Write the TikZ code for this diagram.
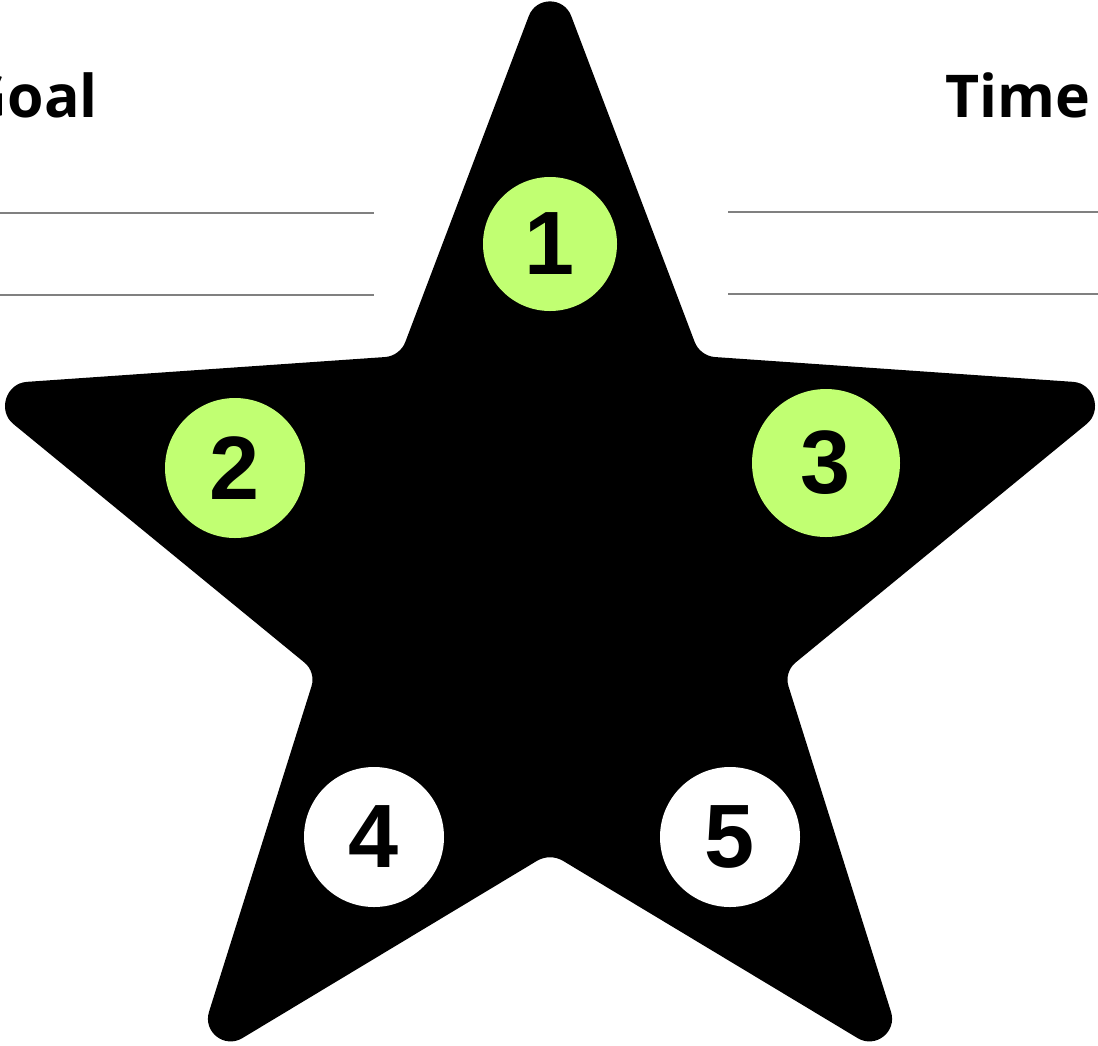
\documentclass[tikz,border=0pt]{standalone}
\usepackage{fontspec}
\usetikzlibrary{calc}
\newfontfamily\headfont{Open Sans}
\newfontfamily\numfont{Liberation Sans}
\definecolor{lime}{HTML}{C1FF72}
\definecolor{rulegray}{HTML}{808080}

\begin{document}
\begin{tikzpicture}[x=1pt, y=-1pt,
    stepdot/.style={circle, inner sep=0pt, font=\numfont\bfseries\fontsize{90}{90}\selectfont},
    heading/.style={inner sep=0pt, font=\headfont\bfseries\fontsize{59}{66}\selectfont},
    writeline/.style={rulegray, line width=2pt}]
    \useasboundingbox (0,0) rectangle (1098,1045);

    % star corners, outer and inner
    \coordinate (T) at (550,-40);
    \coordinate (TRi) at (700,356);
    \coordinate (R) at (1133,386);
    \coordinate (Ri) at (784,672);
    \coordinate (BR) at (909,1069);
    \coordinate (Bi) at (550,853);
    \coordinate (BL) at (191,1069);
    \coordinate (Li) at (316,672);
    \coordinate (L) at (-33,386);
    \coordinate (TLi) at (400,356);
    % rounding: tangent points and control points at every corner
    \foreach \v/\a/\b/\t/\k in {BR/Bi/Ri/60/0.35, R/Ri/TRi/60/0.35, T/TRi/TLi/60/0.35,
        L/TLi/Li/60/0.35, BL/Li/Bi/60/0.35, Bi/BL/BR/15/0.6, Ri/BR/R/15/0.6,
        TRi/R/T/15/0.6, TLi/T/L/15/0.6, Li/L/BL/15/0.6} {
        \coordinate (\v a) at ($(\v)!\t pt!(\a)$);
        \coordinate (\v b) at ($(\v)!\t pt!(\b)$);
        \coordinate (\v ca) at ($(\v a)!\k!(\v)$);
        \coordinate (\v cb) at ($(\v b)!\k!(\v)$);
    }
    \fill (BLb) \foreach \v in {Bi,BR,Ri,R,TRi,T,TLi,L,Li,BL} {
        -- (\v a) .. controls (\v ca) and (\v cb) .. (\v b) } -- cycle;

    \node[heading, anchor=base east] (goal) at (98,117) {Goal};
    \node[heading, anchor=base west] (time) at (945,117) {Time};
    \draw[writeline] (0,213) -- (374,213);
    \draw[writeline] (0,295) -- (374,295);
    \draw[writeline] (728,212) -- (1098,212);
    \draw[writeline] (728,294) -- (1098,294);

    \node[stepdot, fill=lime, minimum size=134pt] (step1) at (550,244) {1};
    \node[stepdot, fill=lime, minimum size=140pt] (step2) at (235,468) {2};
    \node[stepdot, fill=lime, minimum size=148pt] (step3) at (826,463) {3};
    \node[stepdot, fill=white, minimum size=140pt] (step4) at (374,837) {4};
    \node[stepdot, fill=white, minimum size=140pt] (step5) at (730,837) {5};
\end{tikzpicture}
\end{document}
